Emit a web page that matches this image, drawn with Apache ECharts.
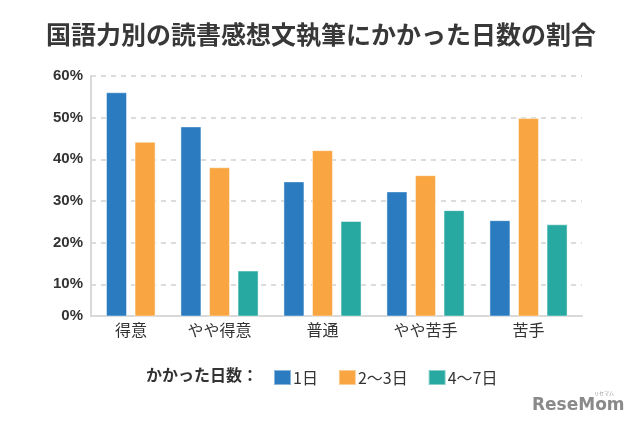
<!DOCTYPE html>
<html>
<head>
<meta charset="utf-8">
<script src="https://cdn.jsdelivr.net/npm/echarts@6/dist/echarts.min.js"></script>
<style>
html,body{margin:0;padding:0;background:#fff;}
#main{width:640px;height:432px;}
</style>
</head>
<body>
<div id="main"></div>
<script>
const categories = ['得意', 'やや得意', '普通', 'やや苦手', '苦手'];
const seriesNames = ['1日', '2～3日', '4～7日'];
const days1 = [56.1, 47.9, 34.7, 32.3, 25.4];
const days2to3 = [44.2, 38.1, 42.2, 36.2, 49.9];
const days4to7 = [null, 13.3, 25.2, 27.8, 24.4];
const yTickValues = [0, 10, 20, 30, 40, 50, 60];
const yAxisMin = 2.4;   // the reference axis line sits slightly above true zero
const yAxisMax = 60;

const colors = ['#2a7bc0', '#f9a541', '#27a8a0'];
const FONT = '"Noto Sans CJK JP", "Noto Sans", sans-serif';

// categories lacking the third series show their two bars shifted into the middle/right slots
const shifted = days4to7.map(v => v == null);
const mainData = [days1, days2to3, days4to7].map(arr => arr.map((v, i) => shifted[i] ? null : v));
const shiftData = [days1, days2to3].map(arr => arr.map((v, i) => shifted[i] ? v : null));

const tickVals = yTickValues.map(v => v === 0 ? yAxisMin : v);

const barCommon = {
  type: 'bar', xAxisIndex: 1, yAxisIndex: 1,
  barWidth: 21, barGap: '36%',
  itemStyle: { borderColor: 'rgba(255,255,255,0.45)', borderWidth: 1 },
  emphasis: { disabled: true }
};

const series = [];
for (let s = 0; s < 3; s++) {
  series.push(Object.assign({}, barCommon, {
    name: seriesNames[s], stack: 's' + s, data: mainData[s],
    itemStyle: Object.assign({}, barCommon.itemStyle, { color: colors[s] })
  }));
}
for (let s = 0; s < 2; s++) {
  series.push(Object.assign({}, barCommon, {
    name: seriesNames[s], stack: 's' + (s + 1), data: shiftData[s],
    itemStyle: Object.assign({}, barCommon.itemStyle, { color: colors[s] })
  }));
}

const chart = echarts.init(document.getElementById('main'));
chart.setOption({
  animation: false,
  color: colors,
  title: [{
    text: '国語力別の読書感想文執筆にかかった日数の割合',
    left: 41, top: 17,
    textStyle: { fontFamily: FONT, fontSize: 25, fontWeight: 'bold', color: '#383838' }
  }, {
    text: 'かかった日数：',
    left: 141, top: 362,
    textStyle: { fontFamily: FONT, fontSize: 16, fontWeight: 'bold', color: '#333' }
  }],
  legend: {
    data: seriesNames,
    left: 268, top: 364,
    itemWidth: 17, itemHeight: 15, itemGap: 20,
    icon: 'rect',
    textStyle: { fontFamily: FONT, fontSize: 16, color: '#333', padding: [0, 0, 0, -3] }
  },
  grid: [
    { left: 91, right: 58, top: 76, bottom: 116 },
    { left: 65, right: 60, top: 76, bottom: 116 }
  ],
  xAxis: [{
    type: 'category', gridIndex: 0, data: categories,
    axisLine: { lineStyle: { color: '#d9d9d9', width: 2 } },
    axisTick: { show: false }, axisLabel: { show: false }
  }, {
    type: 'category', gridIndex: 1, data: categories,
    axisLine: { show: false }, axisTick: { show: false },
    axisLabel: {
      margin: 6, fontFamily: FONT, fontSize: 16, color: '#333',
      formatter: (v, i) => shifted[i] ? '{s|' + v + '}' : v,
      rich: { s: { fontFamily: FONT, fontSize: 16, color: '#333', padding: [0, 0, 0, 29] } }
    }
  }],
  yAxis: [{
    type: 'value', gridIndex: 0, min: yAxisMin, max: yAxisMax,
    axisLine: { show: true, lineStyle: { color: '#d9d9d9', width: 2 } },
    axisTick: { show: false, customValues: tickVals },
    axisLabel: {
      customValues: tickVals, margin: 8,
      fontFamily: '"Liberation Sans", Arial, sans-serif', fontSize: 15, fontWeight: 'bold', color: '#333',
      formatter: v => (v === yAxisMin ? 0 : Math.round(v)) + '%'
    },
    splitLine: { show: true, lineStyle: { color: '#dcdcdc', type: [5, 5], width: 2 } }
  }, {
    type: 'value', gridIndex: 1, min: yAxisMin, max: yAxisMax, show: false,
    splitLine: { show: false }
  }],
  series: series,
  graphic: [{
    type: 'text', left: 532, top: 397,
    style: { text: 'ReseMom', font: 'bold 17px "DejaVu Sans", sans-serif', fill: '#8a8a8a' }
  }, {
    type: 'text', left: 594, top: 391,
    style: { text: 'リセマム', font: '5px "Noto Sans CJK JP"', fill: '#999' }
  }]
});
</script>
</body>
</html>
